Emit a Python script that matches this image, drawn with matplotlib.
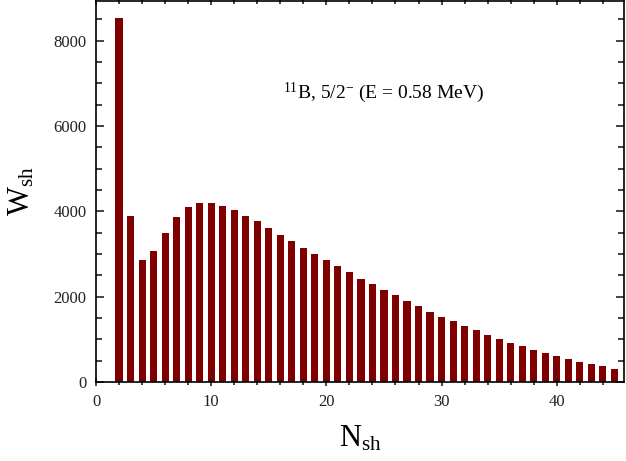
import numpy as np
import matplotlib
matplotlib.use('Agg')
import matplotlib.pyplot as plt
from matplotlib.ticker import MultipleLocator

# 数据：壳层数 N_sh 与权重 W_sh
n_sh = list(range(2, 46))
w_sh = [8524, 3879, 2862, 3065, 3503, 3863, 4090, 4199, 4199, 4121,
        4019, 3894, 3761, 3597, 3449, 3300, 3144, 3003, 2854, 2710,
        2575, 2424, 2291, 2158, 2033, 1892, 1775, 1650, 1533, 1423,
        1314, 1212, 1110, 1017, 923, 845, 751, 673, 610, 540,
        477, 414, 368, 313]

label_text = r'$^{\mathregular{11}}$B, 5/2$^{\mathregular{-}}$ (E = 0.58 MeV)'


def main():
    plt.rcParams['font.family'] = ['Liberation Serif', 'DejaVu Serif']
    plt.rcParams['mathtext.fontset'] = 'custom'
    plt.rcParams['mathtext.rm'] = 'Liberation Serif'
    plt.rcParams['mathtext.it'] = 'Liberation Serif:italic'

    fig = plt.figure(figsize=(6.26, 4.61), dpi=100)
    ax = fig.add_axes([0.1534, 0.1714, 0.8436, 0.8266])

    ax.bar(n_sh, w_sh, width=0.62, color='#800000', edgecolor='none')

    ax.set_xlim(0, 45.85)
    ax.set_ylim(0, 8930)

    # 刻度设置
    ax.xaxis.set_major_locator(MultipleLocator(10))
    ax.xaxis.set_minor_locator(MultipleLocator(2))
    ax.yaxis.set_major_locator(MultipleLocator(2000))
    ax.yaxis.set_minor_locator(MultipleLocator(500))
    ax.tick_params(axis='both', which='both', top=True, right=True,
                   direction='in', labelsize=12, width=1.2, colors='#222222')
    ax.tick_params(axis='x', which='both', bottom=True, top=True, direction='inout')
    ax.tick_params(axis='y', which='major', pad=7)
    ax.tick_params(axis='x', which='major', pad=6)
    ax.tick_params(which='major', length=6)
    ax.tick_params(which='minor', length=4)
    for s in ax.spines.values():
        s.set_linewidth(1.2)

    ax.set_xlabel(r'$\mathregular{N_{sh}}$', fontsize=22, labelpad=10)
    ax.set_ylabel(r'$\mathregular{W_{sh}}$', fontsize=22, labelpad=12)

    ax.text(16.2, 6655, label_text, fontsize=14)

    fig.savefig('out.png', dpi=100)


if __name__ == "__main__":
    main()
